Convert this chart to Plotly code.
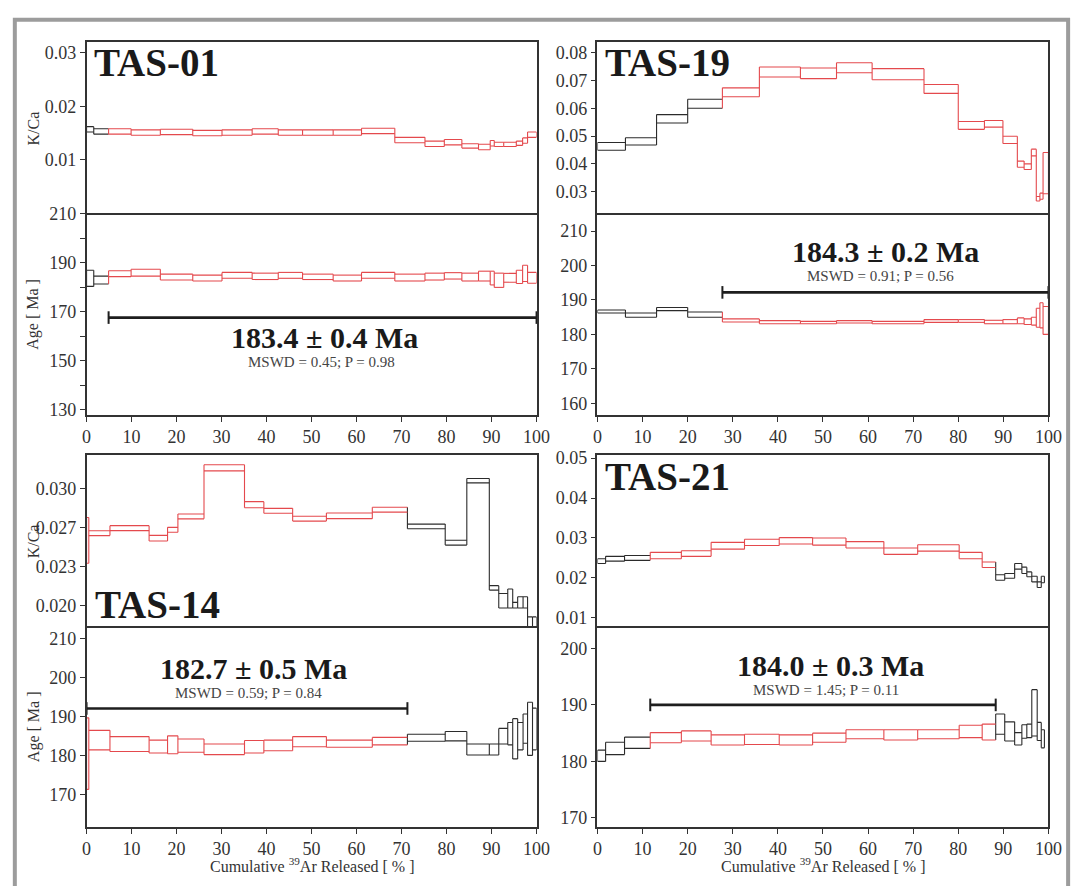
import plotly.graph_objects as go

W, H = 1089, 886

# ---------------- data ----------------
# cumulative 39Ar released [%] step boundaries
TAS01_steps = [0, 1.6, 4.9, 9.9, 16.4, 23.6, 30.1, 36.8, 42.6, 48.0, 54.8, 61.1, 68.5,
               75.2, 79.5, 83.4, 87.1, 89.7, 90.6, 92.7, 95.5, 96.9, 98.0, 100]
TAS01_age = [183.6, 182.9, 185.5, 185.9, 184.1, 183.7, 184.8, 184.4, 184.8, 184.2, 183.7, 184.8,
             183.9, 184.3, 184.6, 184.1, 184.5, 183.7, 182.8, 183.8, 184.2, 185.6, 183.8]
TAS01_age_err = [3.3, 1.6, 1.2, 1.4, 1.2, 1.2, 1.2, 1.3, 1.2, 1.1, 1.2, 1.2,
                 1.4, 1.4, 1.3, 1.6, 2.0, 2.8, 2.9, 1.8, 2.7, 3.3, 2.2]
TAS01_kca = [0.0157, 0.0153, 0.0153, 0.0151, 0.0152, 0.0150, 0.0151, 0.0153, 0.0151, 0.0151, 0.0151, 0.0154,
             0.0137, 0.0130, 0.0133, 0.0126, 0.0124, 0.0131, 0.0129, 0.0129, 0.0131, 0.0136, 0.0147]
TAS01_kca_err = [0.0005, 0.0005, 0.0005, 0.0005, 0.0005, 0.0005, 0.0005, 0.0005, 0.0005, 0.0005, 0.0005, 0.0005,
                 0.0005, 0.0005, 0.0005, 0.0004, 0.0005, 0.0005, 0.0004, 0.0004, 0.0004, 0.0005, 0.0005]
TAS01_plateau = [4.9, 100.0]
TAS01_result = "183.4 ± 0.4 Ma"
TAS01_stats = "MSWD = 0.45; P = 0.98"

TAS19_steps = [0, 6.2, 13.1, 20.0, 27.7, 35.9, 45.0, 53.0, 60.9, 72.4, 80.0, 85.8, 89.9,
               93.1, 94.6, 96.2, 97.3, 98.1, 98.8, 100]
TAS19_age = [186.65, 185.6, 187.35, 185.75, 184.05, 183.55, 183.45, 183.65, 183.45, 183.9, 183.9, 183.6,
             183.7, 183.95, 183.7, 183.85, 184.85, 185.55, 184.05]
TAS19_age_err = [0.45, 0.6, 0.45, 0.75, 0.45, 0.45, 0.35, 0.35, 0.35, 0.4, 0.4, 0.5,
                 0.6, 0.85, 0.8, 1.15, 2.75, 3.65, 4.05]
TAS19_kca = [0.0463, 0.0481, 0.0562, 0.0616, 0.0657, 0.0730, 0.0725, 0.0745, 0.0722, 0.0669, 0.0538, 0.0544,
             0.0486, 0.0399, 0.0390, 0.0441, 0.0275, 0.0284, 0.0367]
TAS19_kca_err = [0.0014, 0.0013, 0.0015, 0.0016, 0.0016, 0.0018, 0.0019, 0.0018, 0.0020, 0.0016, 0.0014, 0.0012,
                 0.0013, 0.0011, 0.0010, 0.0012, 0.0008, 0.0011, 0.0074]
TAS19_plateau = [27.7, 100.0]
TAS19_result = "184.3 ± 0.2 Ma"
TAS19_stats = "MSWD = 0.91; P = 0.56"

TAS14_steps = [0, 0.5, 5.2, 13.9, 18.0, 20.3, 26.1, 35.1, 39.4, 45.8, 53.3, 63.5, 71.3,
               79.7, 84.5, 89.5, 91.6, 93.6, 94.7, 95.8, 97.0, 98.0, 99.1, 100]
TAS14_age = [180.55, 184.0, 183.0, 182.35, 182.8, 182.6, 181.65, 182.3, 182.65, 183.6, 183.1, 183.75,
             184.6, 185.0, 181.6, 181.6, 185.0, 185.65, 184.35, 185.0, 186.95, 186.9, 186.85]
TAS14_age_err = [9.15, 2.5, 1.9, 1.65, 2.3, 1.7, 1.35, 1.6, 1.35, 1.3, 0.9, 0.95,
                 0.9, 1.2, 1.4, 1.4, 2.0, 2.85, 5.15, 3.5, 3.75, 6.8, 5.35]
TAS14_kca = [0.02535, 0.0260, 0.02645, 0.02555, 0.0263, 0.0275, 0.03185, 0.02855, 0.0280, 0.0273, 0.02755, 0.0281,
             0.0266, 0.02515, 0.0307, 0.0211, 0.01995, 0.02015, 0.01955, 0.0198, 0.0198, 0.0176, 0.01795]
TAS14_kca_err = [0.00205, 0.00022, 0.00022, 0.00025, 0.00022, 0.00022, 0.00027, 0.00027, 0.00022, 0.00022, 0.00025, 0.00022,
                 0.00021, 0.00022, 0.0002, 0.0002, 0.00065, 0.00085, 0.00025, 0.0005, 0.0005, 0.0009, 0.00055]
TAS14_plateau = [0.0, 71.3]
TAS14_result = "182.7 ± 0.5 Ma"
TAS14_stats = "MSWD = 0.59; P = 0.84"

TAS21_steps = [0, 1.8, 6.0, 11.7, 18.6, 25.2, 32.6, 40.3, 47.7, 55.1, 63.5, 71.0, 80.2,
               85.3, 88.3, 90.3, 92.5, 94.1, 95.2, 96.3, 97.5, 98.4, 99.1]
TAS21_age = [181.0, 182.3, 183.3, 184.2, 184.5, 183.8, 183.9, 183.8, 184.2, 184.8, 184.7, 184.8,
             185.3, 185.2, 186.6, 185.3, 184.0, 185.3, 185.4, 188.6, 185.3, 184.0]
TAS21_age_err = [1.0, 1.1, 1.0, 0.9, 0.9, 0.9, 0.9, 0.9, 0.8, 0.8, 0.9, 0.8,
                 1.1, 1.4, 1.8, 1.7, 1.1, 1.2, 1.2, 4.1, 1.6, 1.6]
TAS21_kca = [0.0242, 0.0248, 0.0250, 0.0256, 0.0261, 0.02805, 0.0289, 0.0293, 0.0291, 0.0283, 0.0267, 0.0275,
             0.0256, 0.0233, 0.0201, 0.0205, 0.0229, 0.0219, 0.0209, 0.0197, 0.0183, 0.0196]
TAS21_kca_err = [0.0006, 0.0006, 0.0006, 0.0008, 0.0007, 0.00085, 0.0008, 0.0008, 0.0009, 0.0008, 0.0008, 0.0008,
                 0.0008, 0.0007, 0.0007, 0.0006, 0.0007, 0.0008, 0.0006, 0.0007, 0.0007, 0.0008]
TAS21_plateau = [11.7, 88.3]
TAS21_result = "184.0 ± 0.3 Ma"
TAS21_stats = "MSWD = 1.45; P = 0.11"

X_TICKS = [0, 10, 20, 30, 40, 50, 60, 70, 80, 90, 100]

# ---------------- layout / styling per panel ----------------
def px_x(p):
    return p / W

def px_y(p):
    return 1 - p / H

LEFT = [px_x(83), px_x(541)]
RIGHT = [px_x(603), px_x(1062)]
TOP_KCA = [px_y(207), px_y(33)]
TOP_AGE = [px_y(412), px_y(207)]
BOT_KCA = [px_y(627), px_y(453)]
BOT_AGE = [px_y(831), px_y(627)]

panels = [
    dict(name="TAS-01", steps=TAS01_steps, age=TAS01_age, age_err=TAS01_age_err,
         kca=TAS01_kca, kca_err=TAS01_kca_err, plateau=TAS01_plateau,
         result=TAS01_result, stats=TAS01_stats,
         xd=LEFT, kd=TOP_KCA, ad=TOP_AGE,
         krange=[0, 0.0319], kticks=[0.01, 0.02, 0.03], ktext=["0.01", "0.02", "0.03"],
         arange=[127.9, 210], aticks=[130, 150, 170, 190, 210], aminor=[140, 160, 180, 200],
         bar_y=167.6, res_pos=(52.9, 159.6), stat_pos=(52.3, 149.6),
         label_pos=(0.012, 0.885), titles=True),
    dict(name="TAS-19", steps=TAS19_steps, age=TAS19_age, age_err=TAS19_age_err,
         kca=TAS19_kca, kca_err=TAS19_kca_err, plateau=TAS19_plateau,
         result=TAS19_result, stats=TAS19_stats,
         xd=RIGHT, kd=TOP_KCA, ad=TOP_AGE,
         krange=[0.0222, 0.0836], kticks=[0.03, 0.04, 0.05, 0.06, 0.07, 0.08],
         ktext=["0.03", "0.04", "0.05", "0.06", "0.07", "0.08"],
         arange=[156.6, 215.1], aticks=[160, 170, 180, 190, 200, 210], aminor=[],
         bar_y=192.2, res_pos=(63.9, 204.1), stat_pos=(62.8, 197.1),
         label_pos=(0.012, 0.885), titles=False),
    dict(name="TAS-14", steps=TAS14_steps, age=TAS14_age, age_err=TAS14_age_err,
         kca=TAS14_kca, kca_err=TAS14_kca_err, plateau=TAS14_plateau,
         result=TAS14_result, stats=TAS14_stats,
         xd=LEFT, kd=BOT_KCA, ad=BOT_AGE,
         krange=[0.01765, 0.03297], kticks=[0.0195, 0.023, 0.0265, 0.030],
         ktext=["0.020", "0.023", "0.027", "0.030"],
         arange=[161.8, 213.1], aticks=[170, 180, 190, 200, 210], aminor=[],
         bar_y=192.1, res_pos=(37.0, 202.4), stat_pos=(36.0, 196.0),
         label_pos=(0.014, 0.126), titles=True),
    dict(name="TAS-21", steps=TAS21_steps, age=TAS21_age, age_err=TAS21_age_err,
         kca=TAS21_kca, kca_err=TAS21_kca_err, plateau=TAS21_plateau,
         result=TAS21_result, stats=TAS21_stats,
         xd=RIGHT, kd=BOT_KCA, ad=BOT_AGE,
         krange=[0.00786, 0.0507], kticks=[0.01, 0.02, 0.03, 0.04, 0.05],
         ktext=["0.01", "0.02", "0.03", "0.04", "0.05"],
         arange=[168.4, 203.9], aticks=[170, 180, 190, 200], aminor=[],
         bar_y=190.0, res_pos=(51.7, 197.0), stat_pos=(50.7, 192.7),
         label_pos=(0.013, 0.874), titles=False),
]

RED = "#e4494d"
BLACK = "#2b2b2b"
AXC = "#333333"
FONT = "Liberation Serif, Times New Roman, serif"
TICK_SIZE = 18

fig = go.Figure()
layout = dict(width=W, height=H, margin=dict(l=0, r=0, t=0, b=0),
              paper_bgcolor="white", plot_bgcolor="white", showlegend=False,
              font=dict(family=FONT, color=AXC, size=15))
annotations = []
shapes = []


def spectrum(steps, val, err, plateau, want_red):
    """Upper and lower step lines of a spectrum, joined by vertical edges."""
    xs, ys = [], []
    n = len(val)
    for i in range(n):
        x0, x1 = steps[i], steps[i + 1]
        inside = (x0 >= plateau[0] - 1e-6) and (x1 <= plateau[1] + 1e-6)
        if inside != want_red:
            continue
        lo, hi = val[i] - err[i], val[i] + err[i]
        if i == 0:
            vlo, vhi = lo, hi
        else:
            vlo = min(lo, val[i - 1] - err[i - 1])
            vhi = max(hi, val[i - 1] + err[i - 1])
        xs += [x0, x0, None, x0, x1, None, x0, x1, None]
        ys += [vlo, vhi, None, hi, hi, None, lo, lo, None]
        if i == n - 1:
            xs += [x1, x1, None]
            ys += [lo, hi, None]
    return xs, ys


def axis_common():
    return dict(showline=True, linecolor=AXC, linewidth=1.5, mirror=True,
                showgrid=False, zeroline=False, ticks="outside", ticklen=5,
                tickwidth=1, tickcolor=AXC,
                tickfont=dict(family=FONT, size=TICK_SIZE, color=AXC))


for i, p in enumerate(panels):
    k = 2 * i + 1
    a = 2 * i + 2
    kx, ky = ("x" if k == 1 else f"x{k}"), ("y" if k == 1 else f"y{k}")
    ax_, ay = f"x{a}", f"y{a}"

    # K/Ca axes
    xk = axis_common()
    xk.update(domain=p["xd"], range=[0, 100], anchor=ky, showticklabels=False,
              tickvals=X_TICKS, ticks="")
    yk = axis_common()
    yk.update(domain=p["kd"], range=p["krange"], anchor=kx,
              tickvals=p["kticks"], ticktext=p["ktext"])
    layout["xaxis" if k == 1 else f"xaxis{k}"] = xk
    layout["yaxis" if k == 1 else f"yaxis{k}"] = yk

    # Age axes
    xa = axis_common()
    xa.update(domain=p["xd"], range=[0, 100], anchor=ay, tickvals=X_TICKS, mirror=False)
    ya = axis_common()
    tv = sorted(p["aticks"] + p["aminor"])
    tt = [str(v) if v in p["aticks"] else "" for v in tv]
    ya.update(domain=p["ad"], range=p["arange"], anchor=ax_, tickvals=tv, ticktext=tt)
    layout[f"xaxis{a}"] = xa
    layout[f"yaxis{a}"] = ya

    for want_red, col in ((False, BLACK), (True, RED)):
        xs, ys = spectrum(p["steps"], p["kca"], p["kca_err"], p["plateau"], want_red)
        if xs:
            fig.add_trace(go.Scatter(x=xs, y=ys, mode="lines", xaxis=kx, yaxis=ky,
                                     line=dict(color=col, width=1.1), hoverinfo="skip"))
        xs, ys = spectrum(p["steps"], p["age"], p["age_err"], p["plateau"], want_red)
        if xs:
            fig.add_trace(go.Scatter(x=xs, y=ys, mode="lines", xaxis=ax_, yaxis=ay,
                                     line=dict(color=col, width=1.1), hoverinfo="skip"))

    # plateau bar
    fig.add_trace(go.Scatter(x=p["plateau"], y=[p["bar_y"], p["bar_y"]], mode="lines+markers",
                             xaxis=ax_, yaxis=ay, cliponaxis=False,
                             line=dict(color="#1e1e1e", width=2.6),
                             marker=dict(symbol="line-ns", size=9,
                                         line=dict(width=2, color="#1e1e1e")),
                             hoverinfo="skip"))

    annotations.append(dict(x=p["res_pos"][0], y=p["res_pos"][1], xref=ax_, yref=ay,
                            text=f"<b>{p['result']}</b>", showarrow=False,
                            xanchor="center", yanchor="middle",
                            font=dict(family=FONT, size=30, color="#1a1a1a")))
    annotations.append(dict(x=p["stat_pos"][0], y=p["stat_pos"][1], xref=ax_, yref=ay,
                            text=p["stats"], showarrow=False,
                            xanchor="center", yanchor="middle",
                            font=dict(family=FONT, size=15, color="#444444")))
    annotations.append(dict(x=p["label_pos"][0], y=p["label_pos"][1],
                            xref=f"{kx} domain", yref=f"{ky} domain",
                            text=f"<b>{p['name']}</b>", showarrow=False,
                            xanchor="left", yanchor="middle",
                            font=dict(family=FONT, size=39, color="#1a1a1a")))

    if i >= 2:
        cx = (p["xd"][0] + p["xd"][1]) / 2
        annotations.append(dict(x=cx, y=px_y(870), xref="paper", yref="paper",
                                text="Cumulative <sup>39</sup>Ar Released [ % ]",
                                xanchor="center", yanchor="middle",
                                showarrow=False, font=dict(family=FONT, size=16, color=AXC)))
    if p["titles"]:
        kmid = (p["kd"][0] + p["kd"][1]) / 2
        amid = (p["ad"][0] + p["ad"][1]) / 2
        annotations.append(dict(x=px_x(29), y=kmid, xref="paper", yref="paper",
                                text="K/Ca", textangle=-90, showarrow=False,
                                xanchor="center", yanchor="middle",
                                font=dict(family=FONT, size=16, color=AXC)))
        annotations.append(dict(x=px_x(29), y=amid, xref="paper", yref="paper",
                                text="Age [ Ma ]", textangle=-90, showarrow=False,
                                xanchor="center", yanchor="middle",
                                font=dict(family=FONT, size=16, color=AXC)))

# outer grey frame
shapes.append(dict(type="rect", xref="paper", yref="paper",
                   x0=px_x(10), x1=px_x(1082), y0=px_y(900), y1=px_y(10),
                   line=dict(color="#9c9c9c", width=4), fillcolor="rgba(0,0,0,0)"))

layout["annotations"] = annotations
layout["shapes"] = shapes
fig.update_layout(**layout)
fig.write_html("out.html",
               post_script="document.body.style.margin='0';document.body.style.overflow='hidden';")
